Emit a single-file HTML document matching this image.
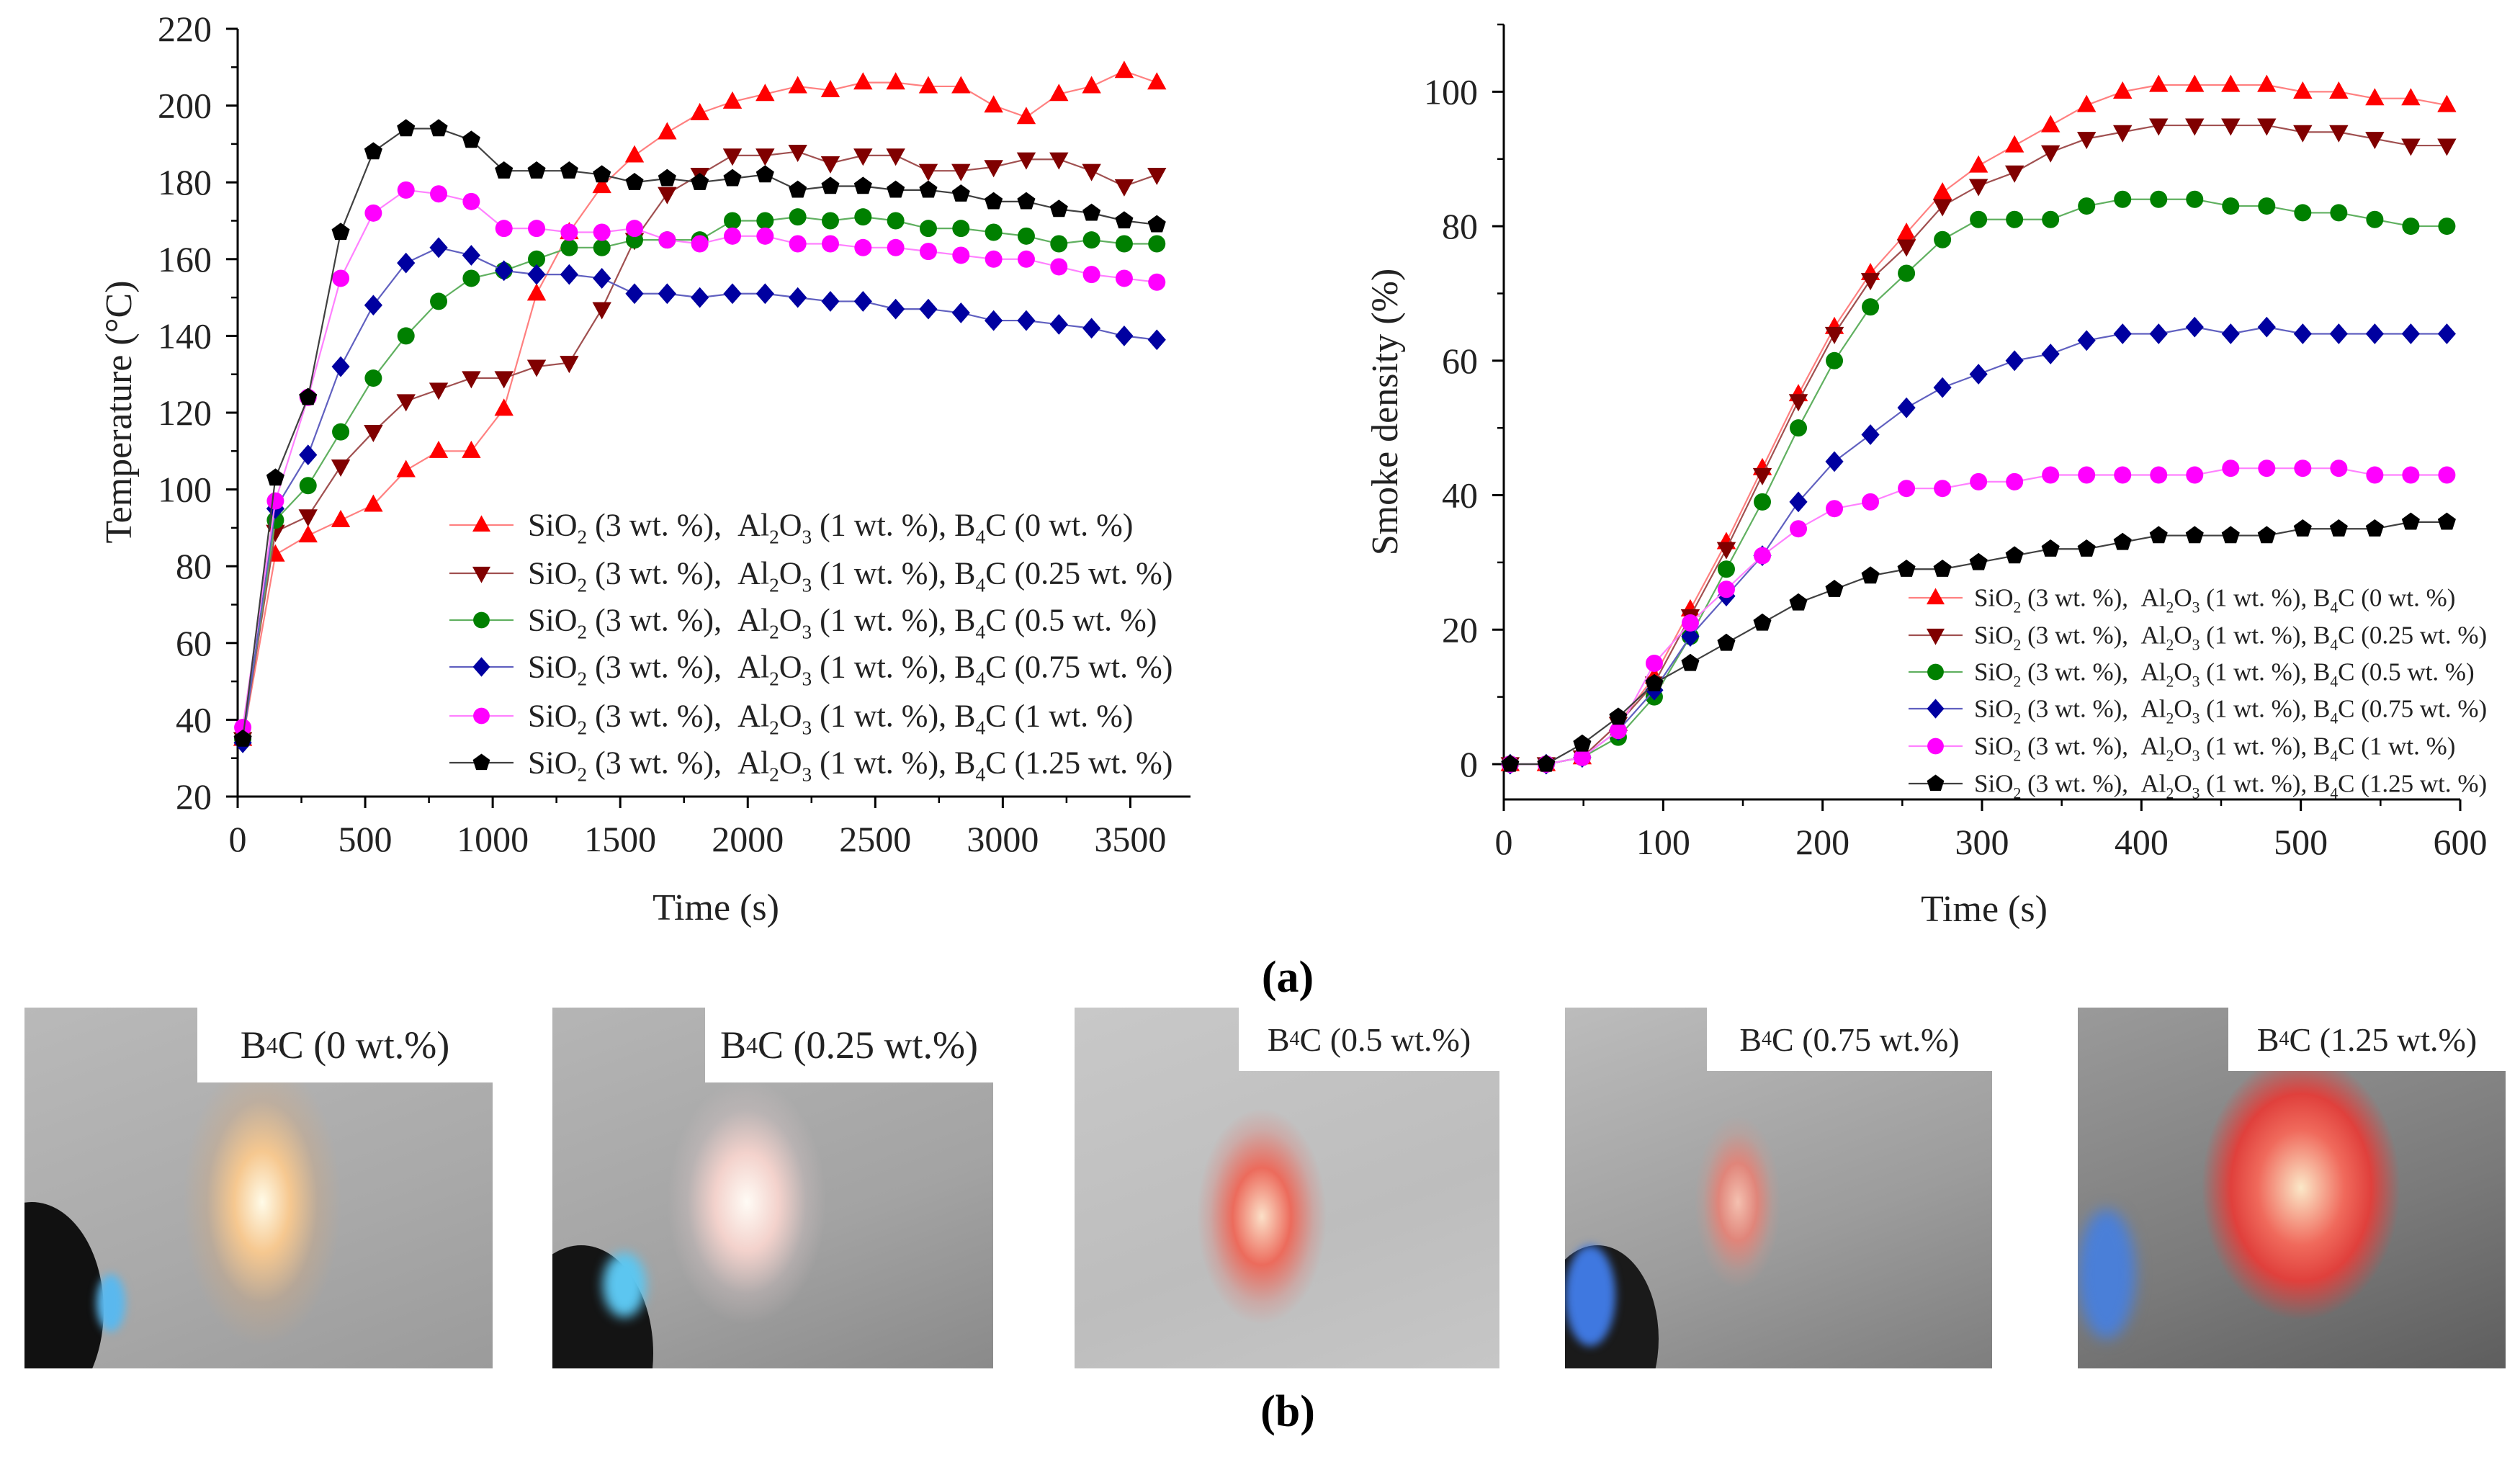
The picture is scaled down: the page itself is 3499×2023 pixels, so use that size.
<!DOCTYPE html>
<html><head><meta charset="utf-8"><style>
html,body{margin:0;padding:0;background:#fff;}
body{width:3499px;height:2023px;overflow:hidden;position:relative;font-family:"Liberation Serif",serif;}
svg text{font-family:"Liberation Serif",serif;}
.photo{position:absolute;overflow:hidden;}
.plabel{position:absolute;top:0;right:0;background:#fff;color:#222;display:flex;align-items:center;justify-content:center;font-family:"Liberation Serif",serif;}
.plabel sub{vertical-align:-0.3em;}
</style></head><body>
<svg id="chart" width="3499" height="1400" style="position:absolute;left:0;top:0">
<g id="left"></g>
<g id="right"></g>
<text x="1788" y="1377" font-size="62" font-weight="bold" text-anchor="middle">(a)</text>
</svg>

<div class="photo" style="left:34px;top:1399px;width:650px;height:501px;background:radial-gradient(ellipse 110px 200px at 330px 270px,#fffbe8 0%,#f6c890 35%,rgba(220,170,120,0.3) 70%,transparent 100%),linear-gradient(160deg,#b9b9b9,#a9a9a9 60%,#9b9b9b);">
<div style="position:absolute;left:-90px;top:270px;width:200px;height:300px;border-radius:50%;background:#111"></div>
<div style="position:absolute;left:100px;top:370px;width:40px;height:80px;border-radius:50%;background:#5ab8ee;filter:blur(6px)"></div>
<div class="plabel" style="width:410px;height:104px;font-size:54px">B<sub style="font-size:32px">4</sub>C (0 wt.%)</div></div>

<div class="photo" style="left:767px;top:1399px;width:612px;height:501px;background:radial-gradient(ellipse 110px 170px at 270px 270px,#fffbf5 0%,#f3d2cc 40%,rgba(220,200,200,0.3) 75%,transparent 100%),linear-gradient(160deg,#b5b5b5,#a3a3a3 60%,#8a8a8a);">
<div style="position:absolute;left:-60px;top:330px;width:200px;height:300px;border-radius:50%;background:#141414"></div>
<div style="position:absolute;left:70px;top:340px;width:60px;height:90px;border-radius:50%;background:#5cc6f0;filter:blur(8px)"></div>
<div class="plabel" style="width:400px;height:104px;font-size:54px">B<sub style="font-size:32px">4</sub>C (0.25 wt.%)</div></div>

<div class="photo" style="left:1492px;top:1399px;width:590px;height:501px;background:radial-gradient(ellipse 90px 150px at 260px 290px,#fbe0c8 0%,#ec6b5c 45%,rgba(230,120,110,0.3) 80%,transparent 100%),linear-gradient(160deg,#c8c8c8,#bdbdbd 60%,#c6c6c6);">
<div class="plabel" style="width:362px;height:88px;font-size:46px">B<sub style="font-size:28px">4</sub>C (0.5 wt.%)</div></div>

<div class="photo" style="left:2173px;top:1399px;width:593px;height:501px;background:radial-gradient(ellipse 60px 120px at 240px 270px,#f4c0b0 0%,#e0857a 45%,rgba(210,150,140,0.3) 80%,transparent 100%),linear-gradient(160deg,#bcbcbc,#9c9c9c 60%,#7e7e7e);">
<div style="position:absolute;left:-40px;top:330px;width:170px;height:260px;border-radius:50%;background:#1a1a1a"></div>
<div style="position:absolute;left:0px;top:330px;width:70px;height:140px;border-radius:50%;background:#3f78e0;filter:blur(6px)"></div>
<div class="plabel" style="width:396px;height:88px;font-size:46px">B<sub style="font-size:28px">4</sub>C (0.75 wt.%)</div></div>

<div class="photo" style="left:2885px;top:1399px;width:594px;height:501px;background:radial-gradient(ellipse 150px 200px at 310px 250px,#fbe8c8 0%,#f06a5c 40%,#e0403c 65%,transparent 92%),linear-gradient(160deg,#9a9a9a,#7a7a7a 60%,#5e5e5e);">
<div style="position:absolute;left:0px;top:280px;width:80px;height:180px;border-radius:50%;background:#4a7fd8;filter:blur(10px)"></div>
<div class="plabel" style="width:385px;height:88px;font-size:46px">B<sub style="font-size:28px">4</sub>C (1.25 wt.%)</div></div>

<div style="position:absolute;left:1738px;top:1925px;width:100px;text-align:center;font-size:62px;font-weight:bold">(b)</div>

<script>
const NS="http://www.w3.org/2000/svg";
const seriesNames=["0","0.25","0.5","0.75","1","1.25"];
const colors=["#ff0000","#800000","#008000","#0000a0","#ff00ff","#000000"];
const lineColors=["#ff8080","#a05050","#60b060","#6060c0","#ff80ff","#404040"];
const markers=["tri","tridown","circle","diamond","circle","pent"];
// left chart data
const tempStep=128, tempStart=20;
const tRed=[35,83,88,92,96,105,110,110,121,151,167,179,187,193,198,201,203,205,204,206,206,205,205,200,197,203,205,209,206];
const tDarkRed=[35,89,93,106,115,123,126,129,129,132,133,147,165,177,182,187,187,188,185,187,187,183,183,184,186,186,183,179,182];
const tGreen=[35,92,101,115,129,140,149,155,157,160,163,163,165,165,165,170,170,171,170,171,170,168,168,167,166,164,165,164,164];
const tBlue=[34,95,109,132,148,159,163,161,157,156,156,155,151,151,150,151,151,150,149,149,147,147,146,144,144,143,142,140,139];
const tMagenta=[38,97,124,155,172,178,177,175,168,168,167,167,168,165,164,166,166,164,164,163,163,162,161,160,160,158,156,155,154];
const tBlack=[35,103,124,167,188,194,194,191,183,183,183,182,180,181,180,181,182,178,179,179,178,178,177,175,175,173,172,170,169];
const tempTicksX=[0,500,1000,1500,2000,2500,3000,3500];
const tempTicksY=[20,40,60,80,100,120,140,160,180,200,220];
// right chart data
const smokeStep=22.6, smokeStart=4;
const sRed=[0,0,1,6,13,23,33,44,55,65,73,79,85,89,92,95,98,100,101,101,101,101,100,100,99,99,98];
const sDarkRed=[0,0,1,6,12,22,32,43,54,64,72,77,83,86,88,91,93,94,95,95,95,95,94,94,93,92,92];
const sGreen=[0,0,1,4,10,19,29,39,50,60,68,73,78,81,81,81,83,84,84,84,83,83,82,82,81,80,80];
const sBlue=[0,0,1,5,11,19,25,31,39,45,49,53,56,58,60,61,63,64,64,65,64,65,64,64,64,64,64];
const sMagenta=[0,0,1,5,15,21,26,31,35,38,39,41,41,42,42,43,43,43,43,43,44,44,44,44,43,43,43];
const sBlack=[0,0,3,7,12,15,18,21,24,26,28,29,29,30,31,32,32,33,34,34,34,34,35,35,35,36,36];
const smokeTicksX=[0,100,200,300,400,500,600];
const smokeTicksY=[0,20,40,60,80,100];

function el(tag,attrs,parent){const e=document.createElementNS(NS,tag);for(const k in attrs)e.setAttribute(k,attrs[k]);parent.appendChild(e);return e;}
function marker(g,type,cx,cy,r,color){
  let e;
  if(type==="circle"){e=el("circle",{cx:cx,cy:cy,r:r,fill:color},g);}
  else{
    let pts=[];
    if(type==="tri")pts=[[0,-1.2],[1.1,0.8],[-1.1,0.8]];
    else if(type==="tridown")pts=[[0,1.2],[1.1,-0.8],[-1.1,-0.8]];
    else if(type==="diamond")pts=[[0,-1.2],[1.05,0],[0,1.2],[-1.05,0]];
    else for(let i=0;i<5;i++){const a=-Math.PI/2+i*2*Math.PI/5;pts.push([Math.cos(a)*1.1,Math.sin(a)*1.1]);}
    e=el("polygon",{points:pts.map(p=>(cx+p[0]*r)+","+(cy+p[1]*r)).join(" "),fill:color},g);
  }
  return e;
}
function legendLabel(g,x,y,fs,name){
  const t=el("text",{x:x,y:y,"font-size":fs,fill:"#222"},g);
  const sub=fs*0.62;
  t.innerHTML=`SiO<tspan font-size="${sub}" dy="${fs*0.25}">2</tspan><tspan dy="${-fs*0.25}">\u00a0(3\u00a0wt.\u00a0%),\u00a0\u00a0Al</tspan><tspan font-size="${sub}" dy="${fs*0.25}">2</tspan><tspan dy="${-fs*0.25}">O</tspan><tspan font-size="${sub}" dy="${fs*0.25}">3</tspan><tspan dy="${-fs*0.25}">\u00a0(1\u00a0wt.\u00a0%),\u00a0B</tspan><tspan font-size="${sub}" dy="${fs*0.25}">4</tspan><tspan dy="${-fs*0.25}">C\u00a0(${name}\u00a0wt.\u00a0%)</tspan>`;
  
  
  return t;
}
function drawChart(g,cfg){
  const X=v=>cfg.x0+(v-cfg.xmin)/(cfg.xmax-cfg.xmin)*(cfg.x1-cfg.x0);
  const Y=v=>cfg.y0-(v-cfg.ymin)/(cfg.ymax-cfg.ymin)*(cfg.y0-cfg.y1);
  const ax=el("line",{x1:cfg.x0,y1:cfg.y0,x2:cfg.x0,y2:cfg.y1,stroke:"#000","stroke-width":3},g);
  
  const bx=el("line",{x1:cfg.x0,y1:cfg.y0,x2:cfg.x1,y2:cfg.y0,stroke:"#000","stroke-width":3},g);
  
  const dy=cfg.ticksY[1]-cfg.ticksY[0];
  for(let v=cfg.ticksY[0]-dy/2;v<=cfg.ymax;v+=dy/2){
    if(v<cfg.ymin)continue;
    const major=cfg.ticksY.includes(v);
    el("line",{x1:cfg.x0-(major?16:9),y1:Y(v),x2:cfg.x0,y2:Y(v),stroke:"#000","stroke-width":major?3:2.5},g);
  }
  cfg.ticksY.forEach(v=>{
    const t=el("text",{x:cfg.x0-36,y:Y(v)+17,"font-size":50,"text-anchor":"end",fill:"#222"},g);t.textContent=v;
    
  });
  const dx=cfg.ticksX[1]-cfg.ticksX[0];
  for(let v=cfg.ticksX[0];v<=cfg.xmax;v+=dx/2){
    const major=cfg.ticksX.includes(v);
    el("line",{x1:X(v),y1:cfg.y0,x2:X(v),y2:cfg.y0+(major?16:9),stroke:"#000","stroke-width":major?3:2.5},g);
  }
  cfg.ticksX.forEach(v=>{
    const t=el("text",{x:X(v),y:cfg.y0+76,"font-size":50,"text-anchor":"middle",fill:"#222"},g);t.textContent=v;
    
  });
  const xt=el("text",{x:cfg.xtX,y:cfg.xtY,"font-size":52,"text-anchor":"middle",fill:"#222"},g);xt.textContent="Time (s)";
  
  const yt=el("text",{x:0,y:0,"font-size":52,"text-anchor":"middle",fill:"#222",transform:`translate(${cfg.ytX},${cfg.ytY}) rotate(-90)`},g);yt.textContent=cfg.ytitle;
  
  cfg.series.forEach((arr,si)=>{
    const sg=el("g",{},g);
    
    
    const pts=arr.map((v,i)=>[X(cfg.start+i*cfg.step),Y(v)]);
    el("polyline",{points:pts.map(p=>p.join(",")).join(" "),fill:"none",stroke:lineColors[si],"stroke-width":2.2},sg);
    pts.forEach(p=>{const m=marker(sg,markers[si],p[0],p[1],cfg.mr,colors[si]);
      });
  });
  seriesNames.forEach((n,i)=>{
    const y=cfg.legY[i];
    const lg=el("g",{},g);
    
    
    el("line",{x1:cfg.legX0,y1:y,x2:cfg.legX1,y2:y,stroke:lineColors[i],"stroke-width":2.2},lg);
    marker(lg,markers[i],(cfg.legX0+cfg.legX1)/2,y,cfg.mr*0.95,colors[i]);
    legendLabel(lg,cfg.legText,y+cfg.legFs*0.33,cfg.legFs,n);
  });
}
drawChart(document.getElementById("left"),{x0:330,x1:1653,y0:1106,y1:40,xmin:0,xmax:3736,ymin:20,ymax:220,
  ticksX:tempTicksX,ticksY:tempTicksY,series:[tRed,tDarkRed,tGreen,tBlue,tMagenta,tBlack],start:tempStart,step:tempStep,mr:12,
  xtX:994,xtY:1277,ytX:182,ytY:572,ytitle:"Temperature (°C)",
  legY:[729,796,861,926,994,1059],legX0:624,legX1:713,legText:733,legFs:44});
drawChart(document.getElementById("right"),{x0:2088,x1:3416,y0:1110,y1:34,xmin:0,xmax:600,ymin:-5.25,ymax:110,
  ticksX:smokeTicksX,ticksY:smokeTicksY,series:[sRed,sDarkRed,sGreen,sBlue,sMagenta,sBlack],start:smokeStart,step:smokeStep,mr:12,
  xtX:2755,xtY:1279,ytX:1940,ytY:572,ytitle:"Smoke density (%)",
  legY:[830,882,933,984,1036,1088],legX0:2650,legX1:2725,legText:2741,legFs:35});
</script>
</body></html>
